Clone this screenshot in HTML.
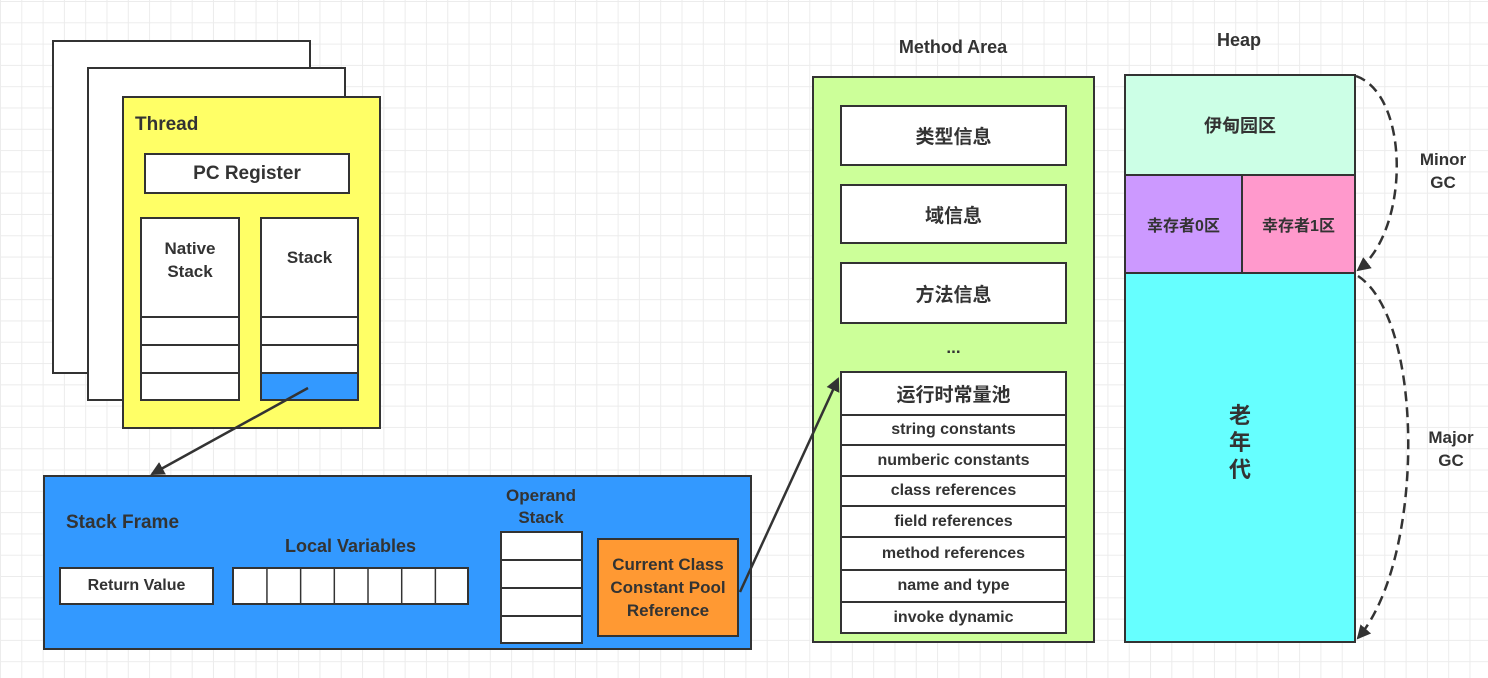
<!DOCTYPE html>
<html><head><meta charset="utf-8"><style>
body{margin:0;width:1488px;height:678px;overflow:hidden;background:#fff;
background-image:linear-gradient(#ececec 1px,transparent 1px),linear-gradient(90deg,#ececec 1px,transparent 1px);
background-size:21.3px 21.3px;background-position:0 1px;
font-family:"Liberation Sans","Noto Sans CJK SC",sans-serif;font-weight:bold;color:#333;}
.b{position:absolute;box-sizing:border-box;border:2px solid #333;}
.t{position:absolute;font-size:17px;text-align:center;white-space:nowrap;}
.c{display:flex;align-items:center;justify-content:center;}
.k{font-weight:bold;}
</style></head><body>
<div class="b" style="left:52px;top:40px;width:259px;height:334px;background:#fff"></div>
<div class="b" style="left:87px;top:67px;width:259px;height:334px;background:#fff"></div>
<div class="b" style="left:122px;top:96px;width:259px;height:333px;background:#ffff66"></div>
<div class="t" style="left:135px;top:114px;font-size:19px">Thread</div>
<div class="b c" style="left:144px;top:153px;width:206px;height:41px;background:#fff;font-size:19px">PC Register</div>
<div class="b" style="left:140px;top:217px;width:100px;height:184px;background:#fff"></div>
<div class="b" style="left:140px;top:316px;width:100px;height:30px;background:#fff"></div>
<div class="b" style="left:140px;top:344px;width:100px;height:30px;background:#fff"></div>
<div class="t" style="left:140px;top:237px;width:100px;line-height:23px">Native<br>Stack</div>
<div class="b" style="left:260px;top:217px;width:99px;height:184px;background:#fff"></div>
<div class="b" style="left:260px;top:316px;width:99px;height:30px;background:#fff"></div>
<div class="b" style="left:260px;top:344px;width:99px;height:30px;background:#fff"></div>
<div class="b" style="left:260px;top:372px;width:99px;height:29px;background:#3399ff"></div>
<div class="t" style="left:260px;top:248px;width:99px">Stack</div>

<div class="b" style="left:43px;top:475px;width:709px;height:175px;background:#3399ff"></div>
<div class="t" style="left:66px;top:512px;font-size:19px">Stack Frame</div>
<div class="b c" style="left:59px;top:567px;width:155px;height:38px;background:#fff">Return Value</div>
<div class="t" style="left:232px;top:536px;width:237px;font-size:18px">Local Variables</div>
<div class="b" style="left:232px;top:567px;width:237px;height:38px;background:#fff;background-image:linear-gradient(90deg,transparent 32px,#333 32px,#333 34px,transparent 34px);background-size:33.7px 100%"></div>
<div class="t" style="left:490px;top:485px;width:102px;line-height:22px">Operand<br>Stack</div>
<div class="b" style="left:500px;top:531px;width:83px;height:30px;background:#fff"></div>
<div class="b" style="left:500px;top:559px;width:83px;height:30px;background:#fff"></div>
<div class="b" style="left:500px;top:587px;width:83px;height:30px;background:#fff"></div>
<div class="b" style="left:500px;top:615px;width:83px;height:29px;background:#fff"></div>
<div class="b c" style="left:597px;top:538px;width:142px;height:99px;background:#ff9933;font-size:17px;line-height:23px;text-align:center">Current Class<br>Constant Pool<br>Reference</div>

<div class="t" style="left:853px;top:37px;width:200px;font-size:18px">Method Area</div>
<div class="b" style="left:812px;top:76px;width:283px;height:567px;background:#ccff99"></div>
<div class="b c k" style="left:840px;top:105px;width:227px;height:61px;background:#fff;font-size:19px">类型信息</div>
<div class="b c k" style="left:840px;top:184px;width:227px;height:60px;background:#fff;font-size:19px">域信息</div>
<div class="b c k" style="left:840px;top:262px;width:227px;height:62px;background:#fff;font-size:19px">方法信息</div>
<div class="t" style="left:840px;top:338px;width:227px">...</div>
<div class="b c k" style="left:840px;top:371px;width:227px;height:45px;background:#fff;font-size:19px">运行时常量池</div>
<div class="b c" style="left:840px;top:414px;width:227px;height:32px;background:#fff">string constants</div>
<div class="b c" style="left:840px;top:444px;width:227px;height:33px;background:#fff">numberic constants</div>
<div class="b c" style="left:840px;top:475px;width:227px;height:32px;background:#fff">class references</div>
<div class="b c" style="left:840px;top:505px;width:227px;height:33px;background:#fff">field references</div>
<div class="b c" style="left:840px;top:536px;width:227px;height:35px;background:#fff">method references</div>
<div class="b c" style="left:840px;top:569px;width:227px;height:34px;background:#fff">name and type</div>
<div class="b c" style="left:840px;top:601px;width:227px;height:33px;background:#fff">invoke dynamic</div>

<div class="t" style="left:1189px;top:30px;width:100px;font-size:18px">Heap</div>
<div class="b c k" style="left:1124px;top:74px;width:232px;height:102px;background:#ccffe6;font-size:18px">伊甸园区</div>
<div class="b c k" style="left:1124px;top:174px;width:119px;height:100px;background:#cc99ff;font-size:16px">幸存者0区</div>
<div class="b c k" style="left:1241px;top:174px;width:115px;height:100px;background:#ff99cc;font-size:16px">幸存者1区</div>
<div class="b" style="left:1124px;top:272px;width:232px;height:371px;background:#66ffff"></div>
<div class="t k" style="left:1124px;top:402px;width:232px;font-size:22px;line-height:27px">老<br>年<br>代</div>
<div class="t" style="left:1410px;top:148px;width:66px;line-height:23px">Minor<br>GC</div>
<div class="t" style="left:1418px;top:426px;width:66px;line-height:23px">Major<br>GC</div>

<svg style="position:absolute;left:0;top:0" width="1488" height="678">
<defs><marker id="b" markerWidth="14" markerHeight="14" refX="12" refY="7" orient="auto" markerUnits="userSpaceOnUse" viewBox="0 0 14 14"><path d="M0,0L14,7L0,14z" fill="#333"/></marker></defs>
<line x1="308" y1="388" x2="152" y2="474" stroke="#333" stroke-width="2.5" marker-end="url(#b)"/>
<line x1="740" y1="592" x2="838" y2="379" stroke="#333" stroke-width="2.5" marker-end="url(#b)"/>
<path d="M1356,76 C1410,95 1410,230 1358,270" fill="none" stroke="#333" stroke-width="2.5" stroke-dasharray="10,6" marker-end="url(#b)"/>
<path d="M1358,276 C1425,320 1425,560 1358,638" fill="none" stroke="#333" stroke-width="2.5" stroke-dasharray="10,6" marker-end="url(#b)"/>
</svg>
</body></html>
